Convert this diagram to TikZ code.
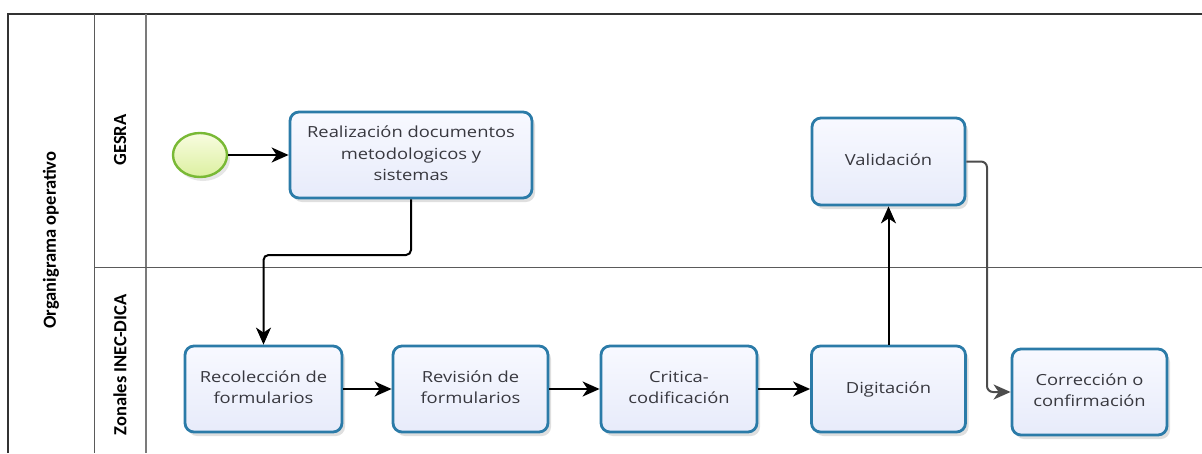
\documentclass[tikz,border=0pt]{standalone}
\usepackage{fontspec}
\usepackage{graphicx}
\setmainfont{Open Sans}
\newfontfamily\lanefont{Carlito}
\usetikzlibrary{arrows.meta,shapes.geometric,shadows,positioning}
\definecolor{boxblue}{HTML}{2B7BA8}
\definecolor{boxtop}{HTML}{F8F9FF}
\definecolor{boxbot}{HTML}{E7EBFA}
\definecolor{txtc}{HTML}{38383F}
\definecolor{lanec}{HTML}{5A5A5A}
\definecolor{startc}{HTML}{79B935}
\definecolor{startbot}{HTML}{DCF0A0}
\definecolor{starttop}{HTML}{F8FCE0}
\newcommand{\bt}[1]{\scalebox{1.2}[1]{\begin{tabular}{@{}c@{}}#1\end{tabular}}}
\tikzset{
  task/.style={rectangle, rounded corners=9pt, draw=boxblue, line width=2.8pt,
    top color=boxtop, bottom color=boxbot, text=txtc,
    font=\fontsize{15.3}{20.5}\selectfont, inner sep=0pt,
    minimum height=86pt, drop shadow={opacity=0.25, shadow xshift=3pt, shadow yshift=-4pt}},
  startev/.style={ellipse, draw=startc, line width=2.4pt, top color=starttop,
    bottom color=startbot, minimum width=54pt, minimum height=44pt,
    inner sep=0pt, drop shadow={opacity=0.2, shadow xshift=3pt, shadow yshift=-4pt}},
  flow/.style={-{Stealth[length=17pt,width=15pt,inset=5pt]}, line width=2pt, black},
  lane/.style={draw=lanec, line width=1pt},
  lanelabel/.style={rotate=90, font=\lanefont\bfseries\fontsize{18.5}{20}\selectfont, text=black}
}
\begin{document}
\begin{tikzpicture}[x=1pt,y=-1pt]
\useasboundingbox (0,0) rectangle (1202,453);
% swimlane frame
\draw[lane, draw=black!80, line width=1.2pt] (8,453) -- (8,14) -- (1202,14);
\draw[lane] (94,14) -- (94,453);
\draw[lane, line width=1.8pt, draw=lanec!80] (146,14) -- (146,453);
\draw[lane] (94,267) -- (1202,267);
\node[lanelabel] (pool) at (51,240) {Organigrama operativo};
\node[lanelabel] (l1) at (120,140) {GESRA};
\node[lanelabel] (l2) at (120,365) {Zonales INEC-DICA};
% nodes
\node[startev] (start) at (200,155) {};
\node[task, minimum width=242pt] (real) at (411,155) {\fontsize{15.3}{21.5}\selectfont\bt{Realización documentos\\metodologicos y\\sistemas}};
\node[task, minimum width=157pt] (rec) at (263.5,389) {\bt{Recolección de\\formularios}};
\node[task, minimum width=155pt] (rev) at (470.5,389) {\bt{Revisión de\\formularios}};
\node[task, minimum width=156pt] (cri) at (679,389) {\bt{Critica-\\codificación}};
\node[task, minimum width=154pt] (dig) at (888.5,389) {\bt{Digitación}};
\node[task, minimum width=153pt, minimum height=87pt] (val) at (888.5,161.5) {\bt{Validación}};
\node[task, minimum width=155pt] (cor) at (1089.5,392) {\bt{Corrección o\\confirmación}};
% connectors
\draw[flow] (start) -- (real);
\coordinate (c1) at (411,255);
\coordinate (c2) at (263.5,255);
\draw[flow, rounded corners=5pt] (real.south) -- (c1) -- (c2) -- (rec.north);
\draw[flow] (rec) -- (rev);
\draw[flow] (rev) -- (cri);
\draw[flow] (cri) -- (dig);
\draw[flow] (dig) -- (val);
\coordinate (c3) at (987,161.5);
\coordinate (c4) at (987,392);
\draw[flow, draw=black!70, rounded corners=6pt] (val.east) -- (c3) -- (c4) -- (cor.west);
\end{tikzpicture}
\end{document}
